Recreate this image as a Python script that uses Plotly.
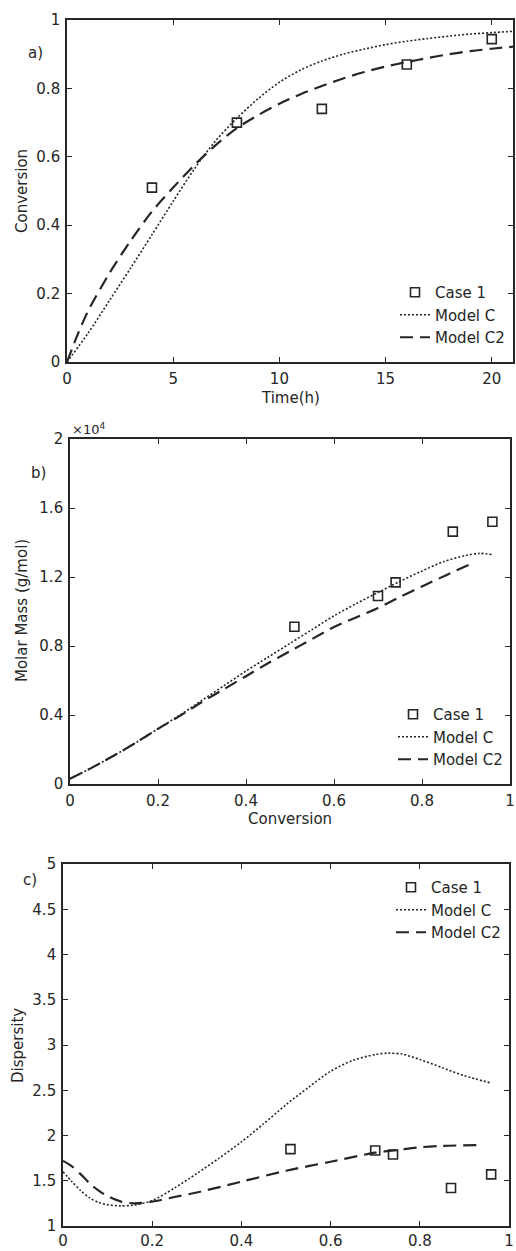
import plotly.graph_objects as go

# ---------------- data ----------------
# a) conversion vs. time
case1_time = [4, 8, 12, 16, 20]
case1_conv = [0.51, 0.70, 0.74, 0.87, 0.944]

modelC_time = [0, 1, 2, 3, 4, 5, 6, 7, 8, 9, 10, 11, 12, 13, 14, 15, 16, 17, 18, 19, 20, 21]
modelC_conv = [0, 0.085, 0.18, 0.275, 0.372, 0.47, 0.565, 0.647, 0.713, 0.77, 0.818,
               0.854, 0.88, 0.9, 0.915, 0.928, 0.938, 0.946, 0.953, 0.959, 0.963, 0.967]

modelC2_time = [0, 0.5, 1, 2, 3, 4, 5, 6, 7, 8, 9, 10, 11, 12, 13, 14, 15, 16, 17, 18, 19, 20, 21]
modelC2_conv = [0, 0.08, 0.15, 0.26, 0.355, 0.44, 0.51, 0.576, 0.634, 0.684, 0.722, 0.755,
                0.783, 0.807, 0.829, 0.848, 0.864, 0.877, 0.889, 0.9, 0.909, 0.916, 0.922]

# b) molar mass vs. conversion (g/mol)
case1_x = [0.51, 0.70, 0.74, 0.87, 0.96]
case1_mw = [9120, 10900, 11690, 14630, 15200]

modelC_x = [0, 0.05, 0.1, 0.15, 0.2, 0.25, 0.3, 0.35, 0.4, 0.45, 0.5, 0.55, 0.6, 0.65,
            0.7, 0.75, 0.8, 0.85, 0.9, 0.93, 0.96]
modelC_mw = [300, 950, 1650, 2400, 3200, 4000, 4850, 5700, 6550, 7350, 8150, 8950, 9750,
             10450, 11100, 11750, 12350, 12900, 13250, 13370, 13300]

modelC2_x = [0, 0.05, 0.1, 0.15, 0.2, 0.25, 0.3, 0.35, 0.4, 0.45, 0.5, 0.55, 0.6, 0.65,
             0.7, 0.75, 0.8, 0.85, 0.91]
modelC2_mw = [300, 950, 1650, 2400, 3200, 3950, 4750, 5500, 6250, 7000, 7700, 8400, 9100,
              9650, 10200, 10850, 11450, 12050, 12750]

# c) dispersity vs. conversion
case1_pdi = [1.85, 1.835, 1.79, 1.42, 1.57]

modelC_x3 = [0, 0.02, 0.04, 0.06, 0.08, 0.1, 0.13, 0.16, 0.2, 0.25, 0.3, 0.35, 0.4, 0.45,
             0.5, 0.55, 0.6, 0.65, 0.7, 0.73, 0.76, 0.8, 0.85, 0.9, 0.96]
modelC_pdi = [1.60, 1.49, 1.39, 1.31, 1.26, 1.235, 1.222, 1.232, 1.28, 1.42, 1.58, 1.75,
              1.93, 2.13, 2.34, 2.53, 2.71, 2.83, 2.895, 2.91, 2.9, 2.84, 2.75, 2.66, 2.58]

modelC2_x3 = [0, 0.02, 0.04, 0.06, 0.08, 0.1, 0.13, 0.16, 0.2, 0.25, 0.3, 0.4, 0.5, 0.6,
              0.7, 0.75, 0.8, 0.85, 0.93]
modelC2_pdi = [1.72, 1.66, 1.57, 1.47, 1.39, 1.33, 1.27, 1.25, 1.27, 1.32, 1.37, 1.49,
               1.61, 1.71, 1.81, 1.84, 1.87, 1.885, 1.895]

# ---------------- layout helpers ----------------
W, H = 516, 1251
INK = "#262626"
FONT = "DejaVu Sans"


def px(x):
    return x / W


def py(y):
    return 1 - y / H


# plot boxes in pixels: (left, top, right, bottom)
boxes = {
    "a": (67, 20, 513, 362),
    "b": (70, 439, 510, 784),
    "c": (63, 864, 509, 1226),
}

fig = go.Figure()

square = dict(symbol="square-open", size=9, color=INK, line=dict(width=1.6, color=INK))
dotted = dict(color=INK, width=1.6, dash="2px,2px", shape="spline", smoothing=0.8)
dashed = dict(color=INK, width=2.2, dash="13px,7px", shape="spline", smoothing=0.8)


def add_panel(i, leg, xs, ys, xc, yc, xc2, yc2):
    xa = "x" if i == 1 else f"x{i}"
    ya = "y" if i == 1 else f"y{i}"
    fig.add_trace(go.Scatter(x=xs, y=ys, mode="markers", marker=square, name="Case 1",
                             xaxis=xa, yaxis=ya, legend=leg))
    fig.add_trace(go.Scatter(x=xc, y=yc, mode="lines", line=dotted, name="Model C",
                             xaxis=xa, yaxis=ya, legend=leg))
    fig.add_trace(go.Scatter(x=xc2, y=yc2, mode="lines", line=dashed, name="Model C2",
                             xaxis=xa, yaxis=ya, legend=leg))


add_panel(1, "legend", case1_time, case1_conv, modelC_time, modelC_conv, modelC2_time, modelC2_conv)
add_panel(2, "legend2", case1_x, case1_mw, modelC_x, modelC_mw, modelC2_x, modelC2_mw)
add_panel(3, "legend3", case1_x, case1_pdi, modelC_x3, modelC_pdi, modelC2_x3, modelC2_pdi)

axis_common = dict(
    showline=True, linecolor=INK, linewidth=1.6, mirror="ticks",
    ticks="inside", ticklen=5, tickwidth=1.3, tickcolor=INK,
    showgrid=False, zeroline=False, automargin=False,
    tickfont=dict(family=FONT, size=15, color=INK),
)

layout = dict(
    width=W, height=H, margin=dict(l=0, r=0, t=0, b=0, autoexpand=False),
    paper_bgcolor="white", plot_bgcolor="white",
    font=dict(family=FONT, size=15, color=INK),
)

panel_axes = [
    ("a", "xaxis", "yaxis", [0, 21], [0, 5, 10, 15, 20], None, [0, 1],
     [0, 0.2, 0.4, 0.6, 0.8, 1], ["0", "0.2", "0.4", "0.6", "0.8", "1"]),
    ("b", "xaxis2", "yaxis2", [0, 1], [0, 0.2, 0.4, 0.6, 0.8, 1],
     ["0", "0.2", "0.4", "0.6", "0.8", "1"], [0, 20000],
     [0, 4000, 8000, 12000, 16000, 20000], ["0", "0.4", "0.8", "1.2", "1.6", "2"]),
    ("c", "xaxis3", "yaxis3", [0, 1], [0, 0.2, 0.4, 0.6, 0.8, 1],
     ["0", "0.2", "0.4", "0.6", "0.8", "1"], [1, 5],
     [1, 1.5, 2, 2.5, 3, 3.5, 4, 4.5, 5], ["1", "1.5", "2", "2.5", "3", "3.5", "4", "4.5", "5"]),
]

for n, (key, xk, yk, xr, xt, xtt, yr, yt, ytt) in enumerate(panel_axes, start=1):
    l, t, r, b = boxes[key]
    anchor_x = "y" if n == 1 else f"y{n}"
    anchor_y = "x" if n == 1 else f"x{n}"
    xd = dict(axis_common, domain=[px(l), px(r)], range=xr, tickvals=xt, anchor=anchor_x,
              ticktext=xtt if xtt else [str(v) for v in xt],
              ticklabelstandoff=0 if key == "c" else 2)
    yd = dict(axis_common, domain=[py(b), py(t)], range=yr, tickvals=yt, ticktext=ytt,
              anchor=anchor_y, ticklabelstandoff=2)
    layout[xk] = xd
    layout[yk] = yd

# legends, one per panel
leg_style = dict(bgcolor="rgba(0,0,0,0)", borderwidth=0, xanchor="right",
                 font=dict(family=FONT, size=15, color=INK),
                 tracegroupgap=0, itemwidth=30)
layout["legend"] = dict(leg_style, x=px(510), y=py(354), yanchor="bottom")
layout["legend2"] = dict(leg_style, x=px(508), y=py(776), yanchor="bottom")
layout["legend3"] = dict(leg_style, x=px(506), y=py(871), yanchor="top")

fig.update_layout(**layout)

# axis titles, panel tags and the exponent label
notes = [
    ("Time(h)", 290, 398, 0),
    ("Conversion", 290, 819, 0),
    ("Conversion", 22, 191, -90),
    ("Molar Mass (g/mol)", 22, 611, -90),
    ("Dispersity", 18, 1046, -90),
    ("a)", 35, 53, 0),
    ("b)", 38, 473, 0),
    ("c)", 30, 880, 0),
]
for text, x, y, ang in notes:
    fig.add_annotation(text=text, x=px(x), y=py(y), xref="paper", yref="paper",
                       showarrow=False, textangle=ang, xanchor="center", yanchor="middle",
                       font=dict(family=FONT, size=15, color=INK))

fig.add_annotation(text="×10<sup>4</sup>", x=px(70), y=py(429), xref="paper", yref="paper",
                   showarrow=False, xanchor="left", yanchor="middle",
                   font=dict(family=FONT, size=13, color=INK))

fig.write_html("out.html")
